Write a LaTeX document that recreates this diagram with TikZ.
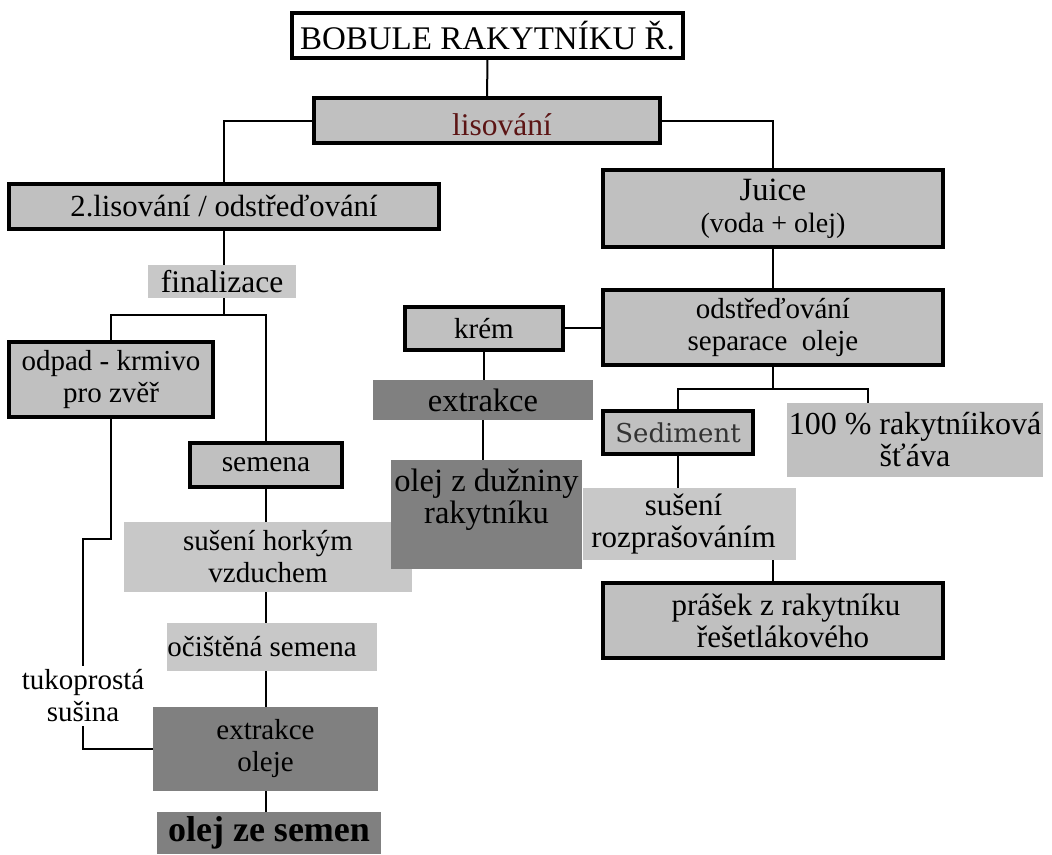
\documentclass[tikz,border=0pt]{standalone}
\usepackage{fontspec}
\setmainfont{Liberation Serif}
\newfontfamily\sedfont{DejaVu Serif}
\usepackage{tikz}
\definecolor{boxgray}{HTML}{C0C0C0}
\definecolor{lightbox}{HTML}{C8C8C8}
\definecolor{darkbox}{HTML}{808080}
\definecolor{maroon}{HTML}{5C1414}
\definecolor{sedtext}{HTML}{333333}

\begin{document}
\begin{tikzpicture}[x=1pt,y=-1pt,
    txt/.style={align=center,inner sep=0pt,font=\fontsize{29}{32}\selectfont},
    size/.style={font=\fontsize{#1}{32}\selectfont},
    framed/.style={txt,draw,line width=3.2pt,fill=boxgray},
    plain/.style={txt,fill=lightbox},
    dark/.style={txt,fill=darkbox},
    link/.style={line width=2pt}]
    \useasboundingbox (0,0) rectangle (1052,854);
    \node[framed,fill=white,minimum width=391pt,minimum height=45pt,size=33] (top) at (487.5,35.5) {BOBULE RAKYTNÍKU Ř.};
    \node[framed,minimum width=346pt,minimum height=45pt,size=31.5,text=maroon,text height=29pt,text depth=0pt] (lis) at (487,120.5) {\hspace*{30pt}lisování};
    \node[framed,minimum width=430pt,minimum height=45pt,size=30.7] (lis2) at (224,206.5) {2.lisování / odstřeďování};
    \node[framed,minimum width=340pt,minimum height=77pt,size=32.5] (juice) at (773,208.5) {Juice\\{\fontsize{28}{32}\selectfont(voda + olej)}};
    \node[plain,minimum width=148pt,minimum height=33pt,size=31.5] (fin) at (222,281.5) {finalizace};
    \node[framed,minimum width=340pt,minimum height=75pt] (odst) at (773,327.5) {odstřeďování\\separace\ \ oleje};
    \node[framed,minimum width=158pt,minimum height=43pt] (krem) at (484,328.5) {krém};
    \node[framed,minimum width=204pt,minimum height=75pt] (odpad) at (111,379.5) {odpad - krmivo\\pro zvěř};
    \node[dark,minimum width=220pt,minimum height=40pt,size=32.5] (ex1) at (483,400) {extrakce};
    \node[framed,minimum width=150pt,minimum height=43pt,font=\sedfont\fontsize{26}{28}\selectfont,text=sedtext] (sed) at (678,432.5) {Sediment};
    \node[plain,fill=boxgray,minimum width=256pt,minimum height=74pt,size=32] (j100) at (915,440) {100 \% rakytníiková\\šťáva};
    \node[framed,minimum width=152pt,minimum height=44pt,size=29.5] (sem) at (266,465) {semena};
    \node[plain,minimum width=288pt,minimum height=70pt] (susH) at (268,557) {sušení horkým\\vzduchem};
    \node[dark,minimum width=191pt,minimum height=109pt,size=32.5,text depth=37pt] (duz) at (486.5,514.5) {olej z dužniny\\rakytníku};
    \node[plain,minimum width=213pt,minimum height=72pt,size=31] (rozpr) at (689.5,524) {sušení\hspace*{12pt}\\rozprašováním\hspace*{12pt}};
    \node[framed,minimum width=340pt,minimum height=75pt,size=31] (prasek) at (773,620.5) {\hspace*{26pt}prášek z rakytníku\\\hspace*{20pt}řešetlákového};
    \node[plain,minimum width=208pt,minimum height=48pt] (ocis) at (272,647) {očištěná semena\hspace*{20pt}};
    \node[txt,fill=white,inner sep=4pt] (tuko) at (83,696) {tukoprostá\\sušina};
    \node[dark,minimum width=225pt,minimum height=84pt] (extrO) at (265.5,749) {extrakce\\oleje};
    \node[dark,minimum width=224pt,minimum height=42pt,font=\fontsize{36}{38}\selectfont\bfseries] (olejS) at (269,833) {olej ze semen};

    \draw[link] (top) -- (lis);
    \draw[link] (lis.west) -| (lis2.north);
    \draw[link] (lis.east) -| (juice.north);
    \draw[link] (juice) -- (odst);
    \draw[link] (odst.west) -- (odst.west -| krem.east);
    \draw[link] (krem.south) -- (krem.south |- ex1.north);
    \draw[link] (ex1.south) -- (ex1.south |- duz.north);
    \draw[link] (odst.south) -- ++(0,22) coordinate (fork1) -| (sed.north);
    \draw[link] (fork1) -| ([xshift=81pt]j100.north west);
    \draw[link] (sed.south) -- (sed.south |- rozpr.north);
    \draw[link] (prasek.north |- rozpr.south) -- (prasek.north);
    \draw[link] (lis2.south) -- (lis2.south |- fin.north);
    \draw[link] (lis2.south |- fin.south) -- ++(0,17) coordinate (fork2) -| (odpad.north);
    \draw[link] (fork2) -| (sem.north);
    \draw[link] (sem.south) -- (sem.south |- susH.north);
    \draw[link] (sem.south |- susH.south) -- (sem.south |- ocis.north);
    \draw[link] (sem.south |- ocis.south) -- (sem.south |- extrO.north);
    \draw[link] (sem.south |- extrO.south) -- (sem.south |- olejS.north);
    \draw[link] (odpad.south) -- ++(0,120) -| (tuko.north);
    \draw[link] (tuko.south) |- (extrO.west);
\end{tikzpicture}
\end{document}
